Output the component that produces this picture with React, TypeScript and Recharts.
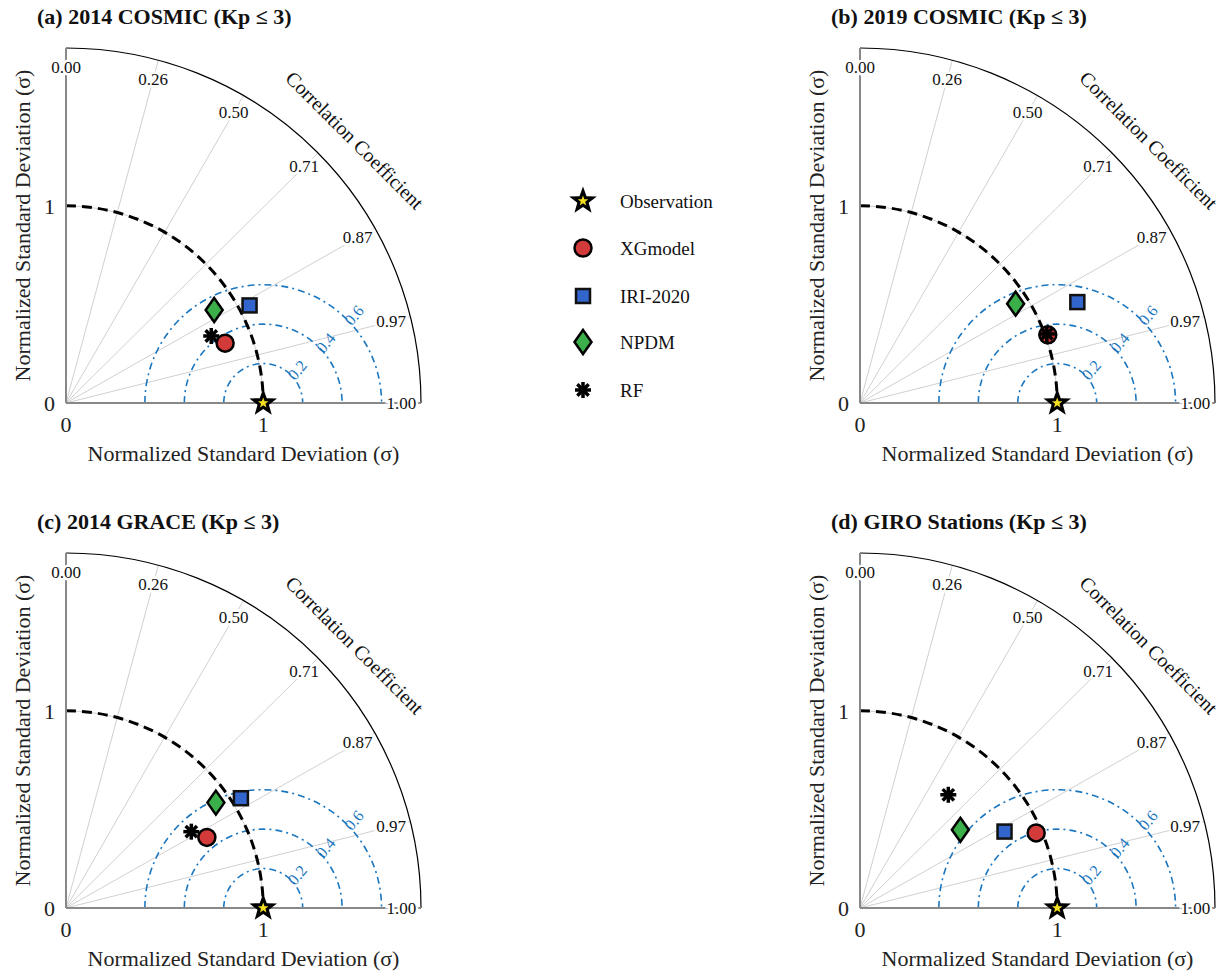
import React from "react";
import * as RC from "recharts";

const { ScatterChart, Scatter, XAxis, YAxis } = RC;

const FONT = "'Liberation Serif', 'Times New Roman', serif";
const MAX_STD = 1.8;

const models = ["Observation", "XGmodel", "IRI-2020", "NPDM", "RF"];
const panelTitles = [
  "(a) 2014 COSMIC (Kp ≤ 3)",
  "(b) 2019 COSMIC (Kp ≤ 3)",
  "(c) 2014 GRACE (Kp ≤ 3)",
  "(d) GIRO Stations (Kp ≤ 3)",
];

const corrTicks = [0, 0.26, 0.5, 0.71, 0.87, 0.97, 1.0];
const corrTickLabels = ["0.00", "0.26", "0.50", "0.71", "0.87", "0.97", "1.00"];
const rmsLevels = [0.2, 0.4, 0.6];
const rmsLabels = ["0.2", "0.4", "0.6"];
const stdTicks = [0, 1];

// normalized std and correlation, in model order
const stdA = [1, 0.862, 1.054, 0.887, 0.811];
const corrA = [1, 0.936, 0.883, 0.847, 0.908];
const stdB = [1, 1.013, 1.215, 0.936, 1.01];
const corrB = [1, 0.94, 0.907, 0.843, 0.938];
const stdC = [1, 0.799, 1.047, 0.929, 0.744];
const corrC = [1, 0.894, 0.847, 0.818, 0.854];
const stdD = [1, 0.971, 0.829, 0.645, 0.728];
const corrD = [1, 0.92, 0.884, 0.789, 0.615];

const panels = [
  { std: stdA, corr: corrA, left: 0, top: 0 },
  { std: stdB, corr: corrB, left: 794, top: 0 },
  { std: stdC, corr: corrC, left: 0, top: 505 },
  { std: stdD, corr: corrD, left: 794, top: 505 },
];

const BLUE = "#1a76bf";

const usePlotAreaSafe: () => any = (RC as any).usePlotArea || (() => undefined);
const FALLBACK_AREA = { x: 66, y: 48, width: 355, height: 355 };

function starPoints(cx: number, cy: number, R: number, r: number) {
  const pts: string[] = [];
  for (let i = 0; i < 10; i++) {
    const a = -Math.PI / 2 + (i * Math.PI) / 5;
    const rad = i % 2 === 0 ? R : r;
    pts.push(`${cx + rad * Math.cos(a)},${cy + rad * Math.sin(a)}`);
  }
  return pts.join(" ");
}

function Marker({ kind, cx, cy }: { kind: number; cx: number; cy: number }) {
  if (kind === 0) {
    return (
      <g>
        <polygon points={starPoints(cx, cy, 14.5, 6)} fill="#000" />
        <polygon points={starPoints(cx, cy, 5.5, 2.3)} fill="#f5e020" />
      </g>
    );
  }
  if (kind === 1) {
    return <circle cx={cx} cy={cy} r={8.5} fill="#d33a3a" stroke="#000" strokeWidth={2.5} />;
  }
  if (kind === 2) {
    return <rect x={cx - 7} y={cy - 7} width={14} height={14} fill="#3366cc" stroke="#111" strokeWidth={2.5} />;
  }
  if (kind === 3) {
    return (
      <polygon
        points={`${cx},${cy - 12} ${cx + 8.5},${cy} ${cx},${cy + 12} ${cx - 8.5},${cy}`}
        fill="#3bb04a"
        stroke="#000"
        strokeWidth={2.5}
      />
    );
  }
  const arms = [0, 45, 90, 135].map((deg) => {
    const a = (deg * Math.PI) / 180;
    const L = 8;
    return (
      <line
        key={deg}
        x1={cx - L * Math.cos(a)}
        y1={cy - L * Math.sin(a)}
        x2={cx + L * Math.cos(a)}
        y2={cy + L * Math.sin(a)}
        stroke="#000"
        strokeWidth={3.5}
      />
    );
  });
  return <g>{arms}</g>;
}

function TaylorGrid() {
  const pa = usePlotAreaSafe() || FALLBACK_AREA;
  const ux = pa.width / MAX_STD;
  const uy = pa.height / MAX_STD;
  const x0 = pa.x;
  const y0 = pa.y + pa.height;
  const px = (v: number) => x0 + v * ux;
  const py = (v: number) => y0 - v * uy;

  const arc = (cxv: number, r: number, from: number, to: number) => {
    const a1 = (from * Math.PI) / 180;
    const a2 = (to * Math.PI) / 180;
    const sx = px(cxv + r * Math.cos(a1));
    const sy = py(r * Math.sin(a1));
    const ex = px(cxv + r * Math.cos(a2));
    const ey = py(r * Math.sin(a2));
    return `M${sx},${sy} A${r * ux},${r * uy} 0 0 1 ${ex},${ey}`;
  };

  const ccAngle = (42.3 * Math.PI) / 180;
  const ccx = px(1.98 * Math.cos(ccAngle));
  const ccy = py(1.98 * Math.sin(ccAngle));

  return (
    <g fontFamily={FONT}>
      {corrTicks.map((c) => {
        const s = Math.sqrt(1 - c * c);
        return (
          <line key={"ray" + c} x1={px(0)} y1={py(0)} x2={px(MAX_STD * c)} y2={py(MAX_STD * s)} stroke="#d0d0d0" strokeWidth={1} />
        );
      })}
      <path d={arc(0, 1, 90, 0)} fill="none" stroke="#d0d0d0" strokeWidth={1} />
      {rmsLevels.map((r) => (
        <path key={"rms" + r} d={arc(1, r, 180, 0)} fill="none" stroke={BLUE} strokeWidth={1.6} strokeDasharray="7 4 2 4" />
      ))}
      {rmsLevels.map((r, i) => {
        const rr = r + 0.04;
        const a = (44 * Math.PI) / 180;
        const lx = px(1 + rr * Math.cos(a));
        const ly = py(rr * Math.sin(a));
        return (
          <text key={"rl" + r} x={lx} y={ly} fill={BLUE} fontSize={16} textAnchor="middle" dominantBaseline="central" transform={`rotate(-50 ${lx} ${ly})`}>
            {rmsLabels[i]}
          </text>
        );
      })}
      <path d={arc(0, 1, 90, 0)} fill="none" stroke="#000" strokeWidth={3} strokeDasharray="10 6" />
      <path d={arc(0, MAX_STD, 90, 0)} fill="none" stroke="#000" strokeWidth={1.2} />
      <line x1={px(0)} y1={py(0)} x2={px(0)} y2={py(MAX_STD)} stroke="#888" strokeWidth={2} />
      <line x1={px(0)} y1={py(0)} x2={px(MAX_STD)} y2={py(0)} stroke="#888" strokeWidth={2} />
      {corrTicks.map((c, i) => {
        const s = Math.sqrt(1 - c * c);
        const lx = px(1.7 * c);
        const ly = py(1.7 * s);
        return (
          <text key={"cl" + c} x={lx} y={ly} fontSize={17} fill="#111" textAnchor="middle" dominantBaseline="central" stroke="#fff" strokeWidth={5} paintOrder="stroke">
            {corrTickLabels[i]}
          </text>
        );
      })}
      <text x={ccx} y={ccy} fontSize={20} fill="#111" textAnchor="middle" dominantBaseline="central" transform={`rotate(45 ${ccx} ${ccy})`}>
        Correlation Coefficient
      </text>
      <text x={px(MAX_STD / 2)} y={y0 + 50} fontSize={22} fill="#222" textAnchor="middle" dominantBaseline="central">
        Normalized Standard Deviation (σ)
      </text>
      <text x={x0 - 44} y={py(MAX_STD / 2)} fontSize={22} fill="#222" textAnchor="middle" dominantBaseline="central" transform={`rotate(-90 ${x0 - 44} ${py(MAX_STD / 2)})`}>
        Normalized Standard Deviation (σ)
      </text>
    </g>
  );
}

function Panel({ std, corr, title, left, top }: { std: number[]; corr: number[]; title: string; left: number; top: number }) {
  return (
    <div style={{ position: "absolute", left, top, width: 451, height: 473 }}>
      <div style={{ position: "absolute", left: 37, top: 4, fontFamily: FONT, fontWeight: "bold", fontSize: 22, whiteSpace: "nowrap", color: "#111" }}>
        {title}
      </div>
      <ScatterChart width={451} height={473} margin={{ top: 48, right: 30, bottom: 10, left: 26 }}>
        <XAxis
          type="number"
          dataKey="x"
          domain={[0, MAX_STD]}
          ticks={stdTicks}
          height={60}
          axisLine={false}
          tickLine={false}
          tickMargin={7}
          tick={{ fontSize: 22, fill: "#222", fontFamily: FONT }}
        />
        <YAxis
          type="number"
          dataKey="y"
          domain={[0, MAX_STD]}
          ticks={stdTicks}
          width={40}
          axisLine={false}
          tickLine={false}
          tickMargin={5}
          tick={{ fontSize: 22, fill: "#222", fontFamily: FONT }}
        />
        <TaylorGrid />
        {models.map((m, i) => (
          <Scatter
            key={m}
            name={m}
            isAnimationActive={false}
            data={[{ x: std[i] * corr[i], y: std[i] * Math.sqrt(1 - corr[i] * corr[i]) }]}
            shape={(p: any) => <Marker kind={i} cx={p.cx} cy={p.cy} />}
          />
        ))}
      </ScatterChart>
    </div>
  );
}

function LegendBox() {
  const rows = [201, 248, 296, 342, 390];
  return (
    <div style={{ position: "absolute", left: 560, top: 180, width: 200, height: 230 }}>
      <svg width={200} height={230}>
        {models.map((m, i) => (
          <g key={m}>
            <Marker kind={i} cx={23} cy={rows[i] - 180} />
            <text x={60} y={rows[i] - 180} fontFamily={FONT} fontSize={19} fill="#111" dominantBaseline="central">
              {m}
            </text>
          </g>
        ))}
      </svg>
    </div>
  );
}

export default function App() {
  return (
    <div style={{ position: "absolute", left: 0, top: 0, width: 1227, height: 976, background: "#fff" }}>
      {panels.map((p, i) => (
        <Panel key={i} std={p.std} corr={p.corr} title={panelTitles[i]} left={p.left} top={p.top} />
      ))}
      <LegendBox />
    </div>
  );
}
